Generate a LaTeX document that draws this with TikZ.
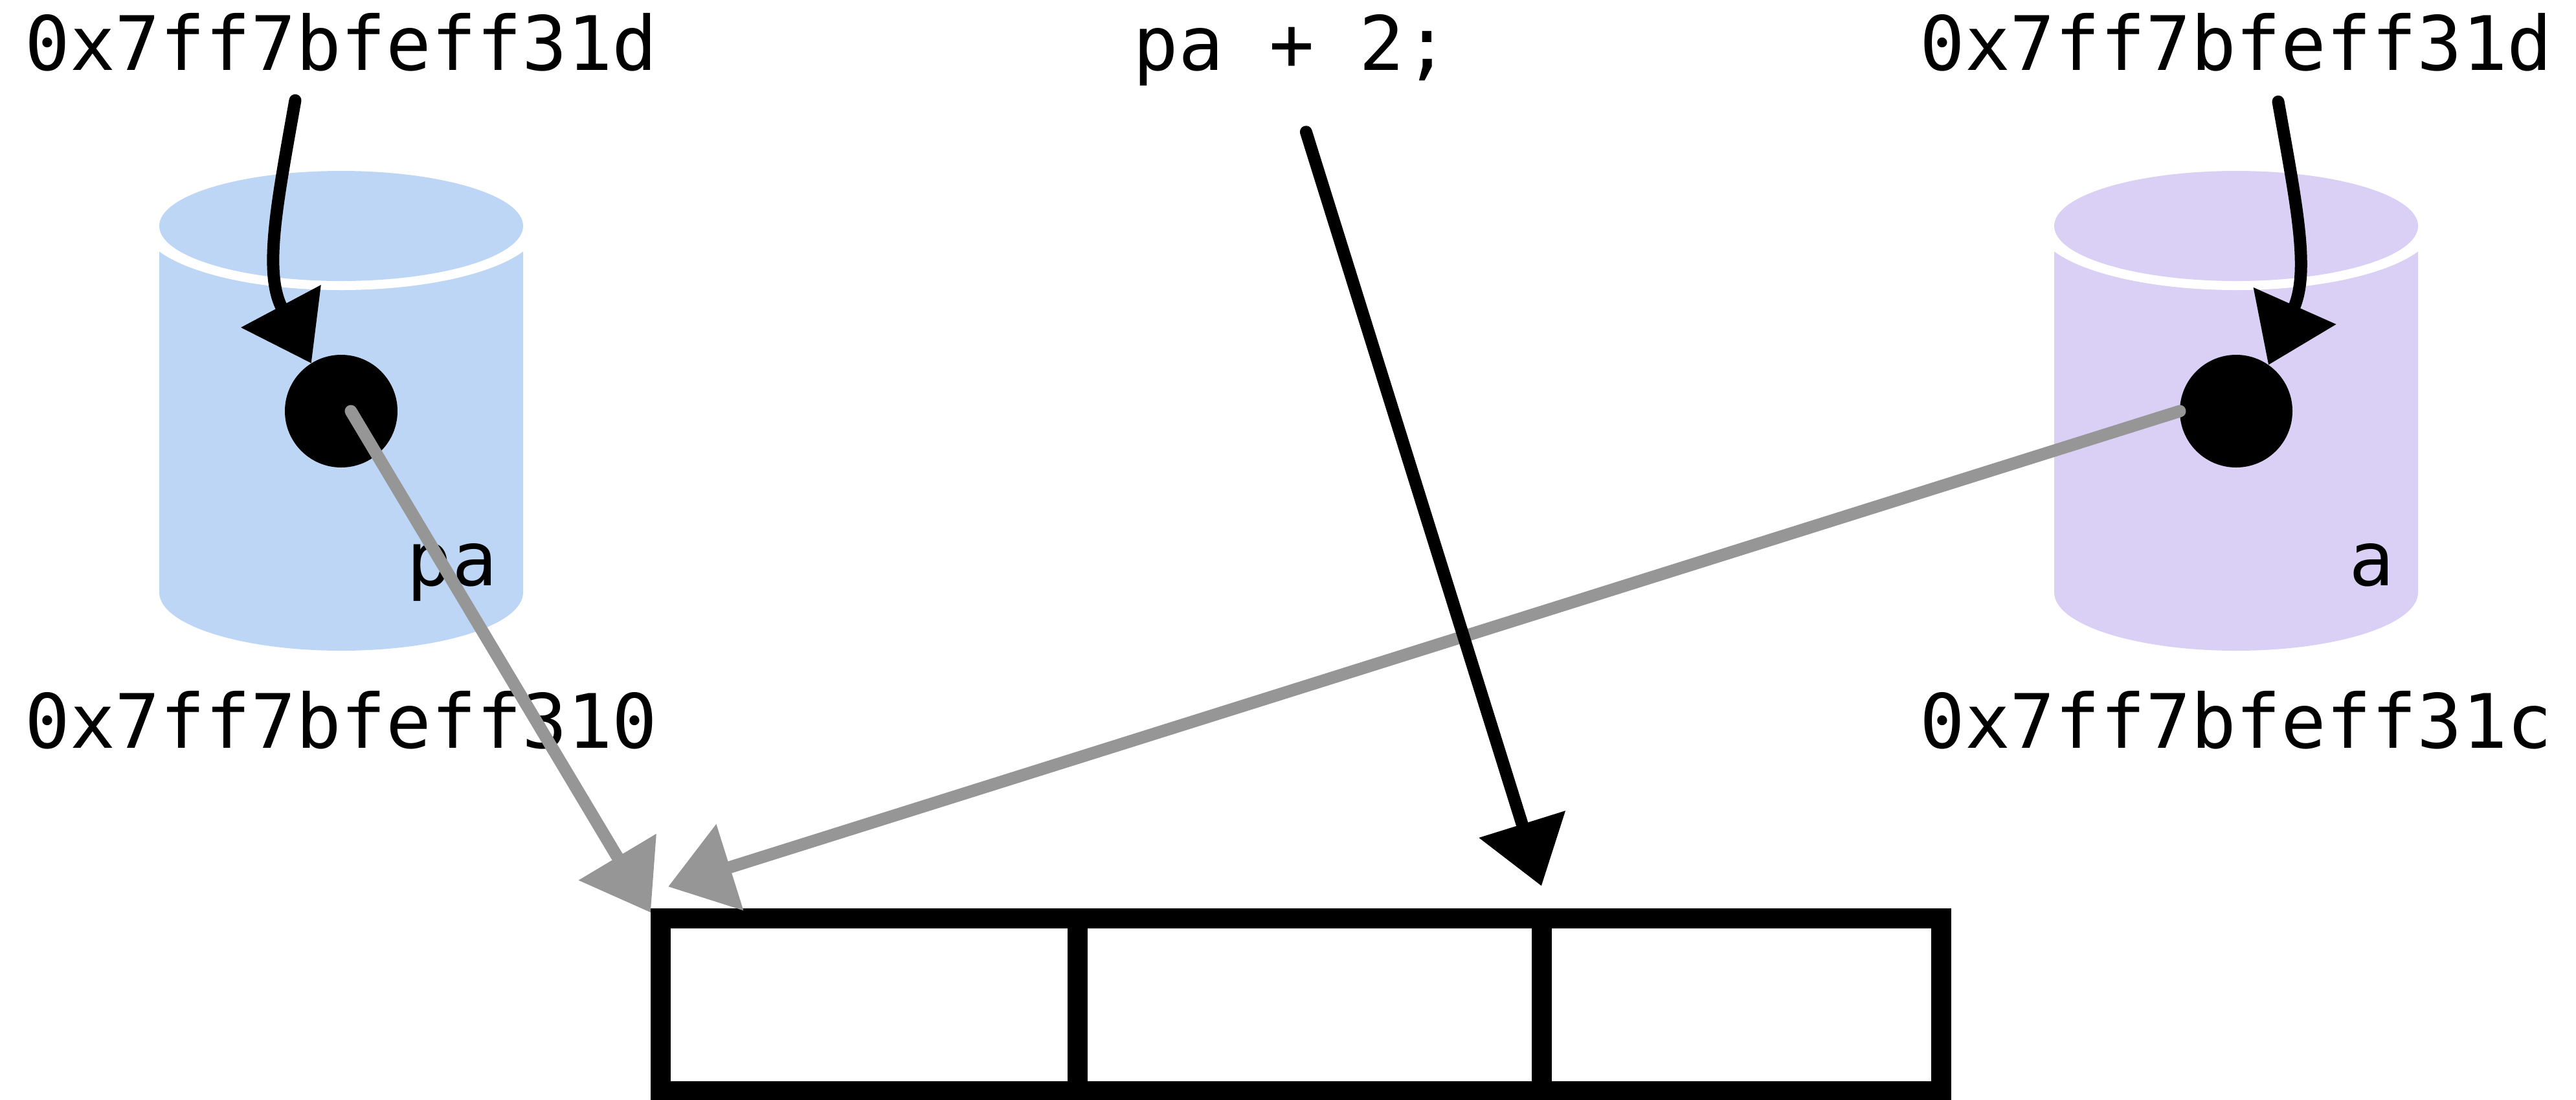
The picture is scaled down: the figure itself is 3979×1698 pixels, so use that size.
\documentclass[tikz,border=0pt]{standalone}
\usepackage{fontspec}
\newfontfamily\codefont{DejaVu Sans Mono}
\usetikzlibrary{arrows.meta,positioning}
\definecolor{ptrblue}{HTML}{BED6F5}
\definecolor{valpurple}{HTML}{DACFF4}
\definecolor{arrowgray}{HTML}{969696}

\begin{document}
\begin{tikzpicture}[x=0.1mm, y=-0.1mm,
    every node/.style={font=\codefont\fontsize{33}{40}\selectfont, inner sep=0pt, outer sep=0pt},
    dot/.style={circle, fill=black, minimum size=17.4mm},
    cell/.style={draw, line width=3.1mm, minimum height=26.7mm},
    ptr/.style={line width=1.9mm, line cap=round, -{Triangle[length=10mm, width=13.5mm]}}]
  \useasboundingbox (0,0) rectangle (3979,1698);

  % Pointer pa
  \begin{scope}
    \fill[ptrblue] (246,349) -- (246,915)
      arc[start angle=180, end angle=360, x radius=28.1mm, y radius=9mm] -- (808,349) -- cycle;
    \fill[white] (527,349) ellipse[x radius=30.6mm, y radius=9.9mm];
    \fill[ptrblue] (527,349) ellipse[x radius=28.1mm, y radius=8.5mm];
    \node[dot] (dotL) at (527,635) {};
    \node[anchor=base east] (lblpa) at (768,904) {pa};
    \node[anchor=base] (addrLtop) at (527,108) {0x7ff7bfeff31d};
    \node[anchor=base] (addrLbot) at (527,1155) {0x7ff7bfeff310};
  \end{scope}

  % Variable a
  \begin{scope}
    \fill[valpurple] (3173,349) -- (3173,915)
      arc[start angle=180, end angle=360, x radius=28.1mm, y radius=9mm] -- (3735,349) -- cycle;
    \fill[white] (3454,349) ellipse[x radius=30.6mm, y radius=9.9mm];
    \fill[valpurple] (3454,349) ellipse[x radius=28.1mm, y radius=8.5mm];
    \node[dot] (dotR) at (3454,635) {};
    \node[anchor=base east] (lbla) at (3698,904) {a};
    \node[anchor=base] (addrRtop) at (3454,108) {0x7ff7bfeff31d};
    \node[anchor=base] (addrRbot) at (3454,1155) {0x7ff7bfeff31c};
  \end{scope}

  % Expression
  \node[anchor=base] (exprTop) at (1995,108) {pa + 2;};

  % Array
  \node[cell, minimum width=64.4mm] (cell1) at (1342,1552) {};
  \node[cell, minimum width=71.7mm, right=0pt of cell1] (cell2) {};
  \node[cell, minimum width=61.7mm, right=0pt of cell2] (cell3) {};

  % Arrows
  \coordinate (tailL) at ([xshift=-7.1mm, yshift=-4.7mm]addrLtop.base);
  \coordinate (tailR) at ([xshift=6.5mm, yshift=-4.9mm]addrRtop.base);
  \draw[ptr, arrowgray] ([xshift=1.5mm]dotL.center) -- ([xshift=-1.5mm, yshift=0.9mm]cell1.north west);
  \draw[ptr, arrowgray] (dotR.west) -- ([xshift=1.2mm, yshift=4.9mm]cell1.north west);
  \draw[ptr] (tailL) to[out=-100, in=118] (dotL.122);
  \draw[ptr] (tailR) to[out=-80, in=66] (dotR.55);
  \draw[ptr, shorten <=7.5mm] (exprTop.south) -- ([yshift=5mm]cell2.north east);
\end{tikzpicture}
\end{document}
